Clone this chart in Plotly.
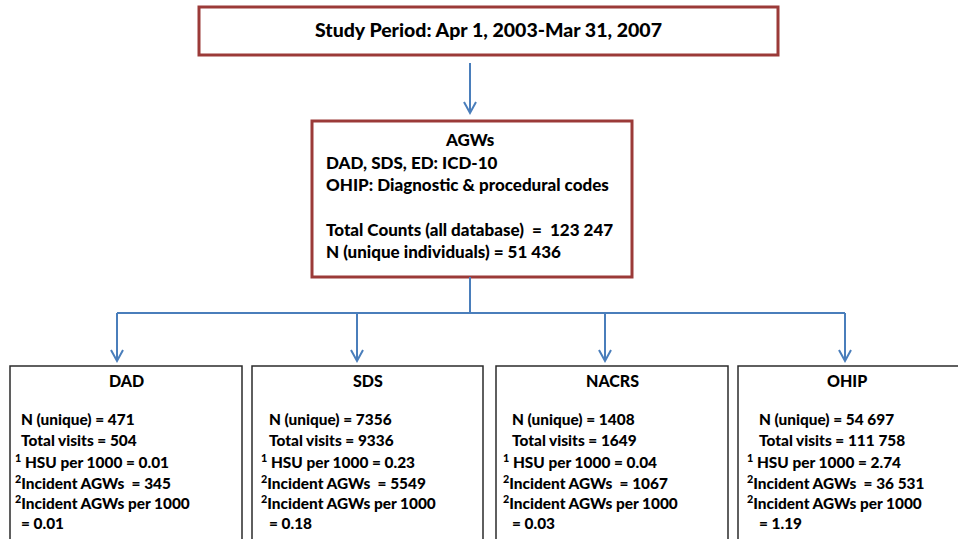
import plotly.graph_objects as go

# ---- data ----
study_period = "Study Period: Apr 1, 2003-Mar 31, 2007"
agw_title = "AGWs"
agw_lines = ["DAD, SDS, ED: ICD-10", "OHIP: Diagnostic & procedural codes", "",
             "Total Counts (all database)  =  123 247", "N (unique individuals) = 51 436"]
db_names = ["DAD", "SDS", "NACRS", "OHIP"]
n_unique = ["471", "7356", "1408", "54 697"]
total_visits = ["504", "9336", "1649", "111 758"]
hsu_per_1000 = ["0.01", "0.23", "0.04", "2.74"]
incident_agws = ["345", "5549", "1067", "36 531"]
incident_per_1000 = ["0.01", "0.18", "0.03", "1.19"]

# ---- layout geometry (pixels) ----
W, H = 958, 539
RED = "#9B3A38"
BLUE = "#4A7EBB"
FONT = "Lato"

top_box = (199, 7, 778, 55)
mid_box = (312, 121, 632, 277)
bot_boxes = [(10, 366, 242), (252, 366, 483), (496, 366, 728), (738, 366, 975)]
indent = [9, 15, 14, 19]
sup_indent = [3, 7, 5, 7]
arrow_x = [117, 357, 605, 845]
branch_y = 313

fig = go.Figure()
shapes = []
ann = []

def box(x0, y0, x1, y1, color, width):
    shapes.append(dict(type="rect", x0=x0, y0=y0, x1=x1, y1=y1, xref="x", yref="y",
                       line=dict(color=color, width=width), fillcolor="white", layer="below"))

def line(x0, y0, x1, y1):
    shapes.append(dict(type="line", x0=x0, y0=y0, x1=x1, y1=y1, xref="x", yref="y",
                       line=dict(color=BLUE, width=2)))

def vhead(x, y):
    shapes.append(dict(type="path", path=f"M {x-6},{y-11} L {x},{y} L {x+6},{y-11}",
                       xref="x", yref="y", line=dict(color=BLUE, width=2)))

def text(x, y, s, size, anchor="left"):
    ann.append(dict(x=x, y=y, xref="x", yref="y", text=s, showarrow=False,
                    xanchor=anchor, yanchor="middle",
                    font=dict(family=FONT, size=size, color="black", weight=900)))

box(*top_box, RED, 3)
box(*mid_box, RED, 3)
for (x0, y0, x1) in bot_boxes:
    box(x0, y0, x1, 600, "#2b2b2b", 1.5)

# connectors
line(470, 63, 470, 113); vhead(470, 113)
line(470, mid_box[3], 470, branch_y)
line(arrow_x[0], branch_y, arrow_x[-1], branch_y)
for ax in arrow_x:
    line(ax, branch_y, ax, 361); vhead(ax, 361)

# texts
text((top_box[0] + top_box[2]) / 2, 29, study_period, 19.5, "center")
text(470, 139, agw_title, 17, "center")
mid_y = [162, 184, 206, 229, 251]
for s, y in zip(agw_lines, mid_y):
    if s:
        text(324, y, s, 17)

BS = 15.4
for i, name in enumerate(db_names):
    x0, y0, x1 = bot_boxes[i]
    cx = (x0 + x1) / 2 if i < 3 else 847
    text(cx, 380, name, 16, "center")
    xi = x0 + indent[i]
    xs = x0 + sup_indent[i]
    text(xi, 419, f"N (unique) = {n_unique[i]}", BS)
    text(xi, 440, f"Total visits = {total_visits[i]}", BS)
    text(xs, 461, f"<sup>1</sup> HSU per 1000 = {hsu_per_1000[i]}", BS)
    text(xs, 482, f"<sup>2</sup>Incident AGWs  = {incident_agws[i]}", BS)
    text(xs, 502, f"<sup>2</sup>Incident AGWs per 1000", BS)
    text(xi, 523, f"= {incident_per_1000[i]}", BS)

fig.update_layout(
    width=W, height=H, margin=dict(l=0, r=0, t=0, b=0),
    paper_bgcolor="white", plot_bgcolor="white",
    xaxis=dict(range=[0, W], visible=False, fixedrange=True),
    yaxis=dict(range=[H, 0], visible=False, fixedrange=True),
    shapes=shapes, annotations=ann, showlegend=False,
)
fig.write_html("out.html", config={"displayModeBar": False},
               post_script="document.body.style.margin='0';document.body.style.overflow='hidden';")
